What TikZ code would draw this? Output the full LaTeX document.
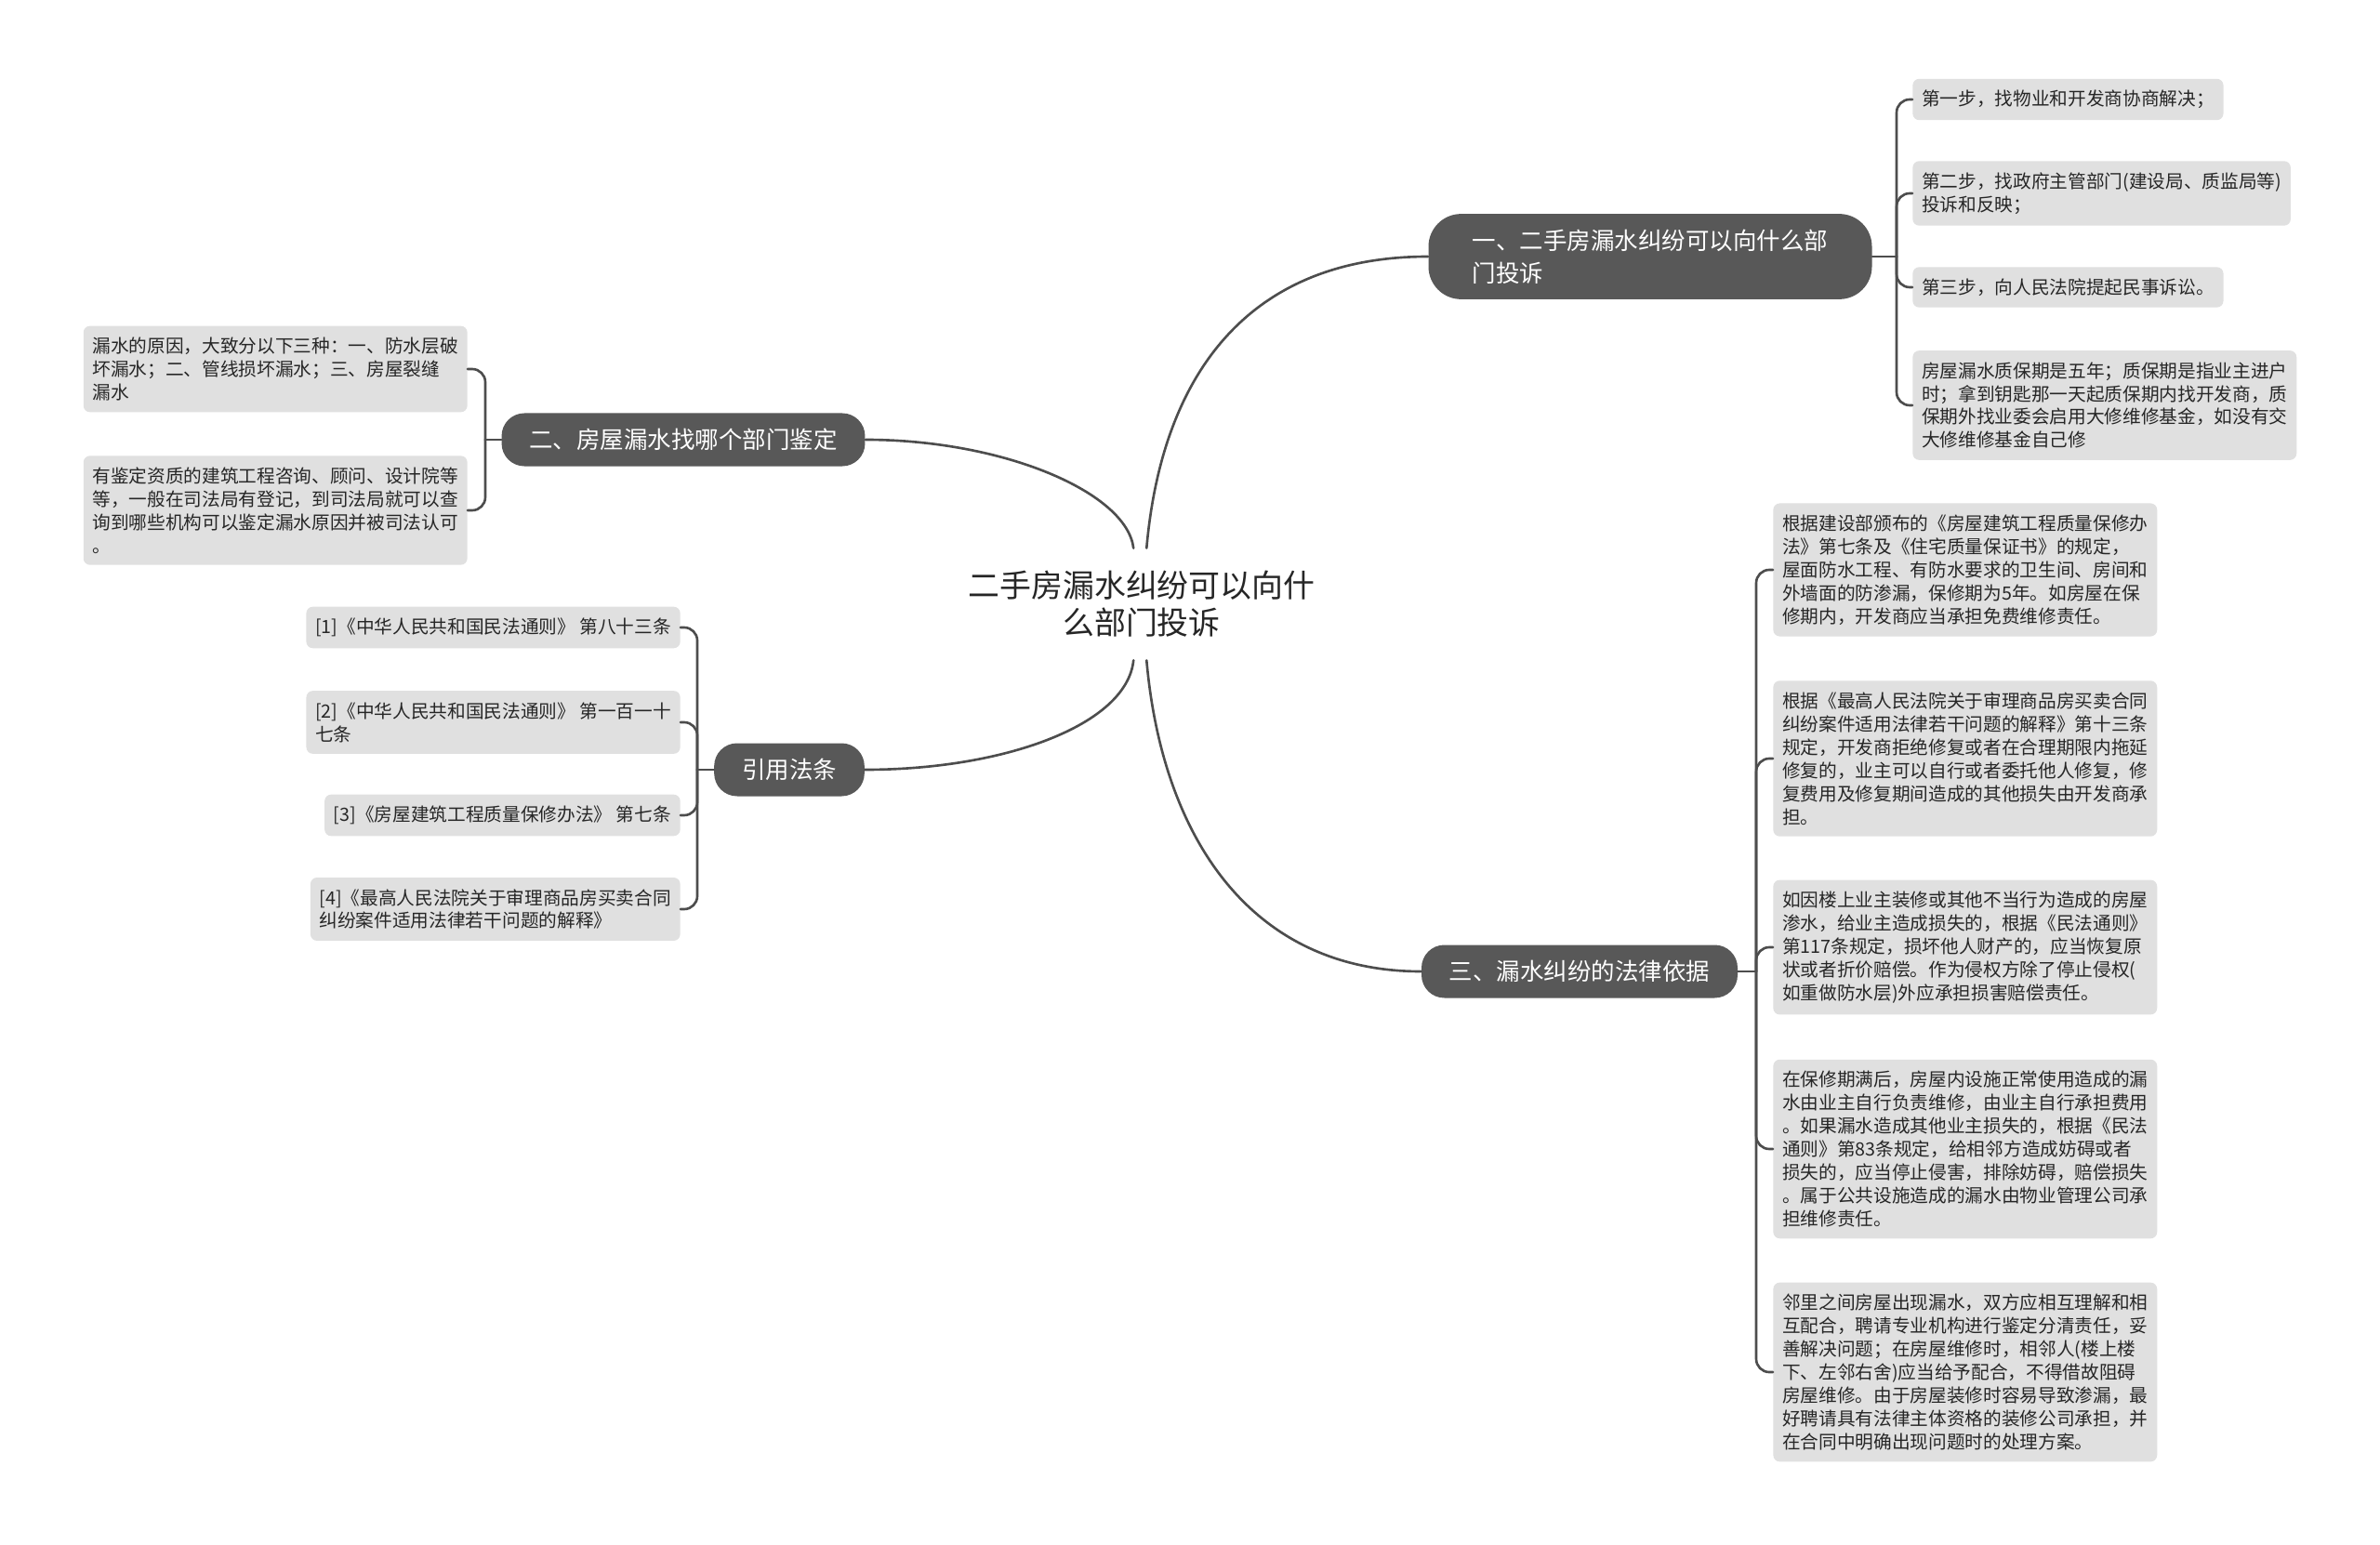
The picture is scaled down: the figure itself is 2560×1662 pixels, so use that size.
\documentclass[tikz,border=0pt]{standalone}
\usepackage{fontspec}
\setmainfont{Noto Sans CJK SC}
\usepackage{tikz}
\usepackage{xcolor}
\usetikzlibrary{positioning, calc}
\definecolor{cTopic}{RGB}{88,88,88}
\definecolor{cLeaf}{RGB}{224,224,224}
\definecolor{cLine}{RGB}{77,77,77}
\definecolor{cText}{RGB}{38,38,38}
\tikzset{
	rootnode/.style ={rectangle, align=center, text=cText, minimum height=2.4cm, inner sep=0pt,
		font=\fontsize{19.3pt}{22.7pt}\selectfont},
	topic/.style    ={rectangle, rounded corners=14pt, fill=cTopic, text=white, align=left,
		inner xsep=17pt, inner ysep=9.5pt, font=\fontsize{14.5pt}{19.8pt}\selectfont},
	leaf/.style     ={rectangle, rounded corners=4pt, fill=cLeaf, text=cText, align=left,
		inner xsep=5.5pt, inner ysep=7pt, font=\fontsize{11.2pt}{14.2pt}\selectfont},
	link/.style     ={draw=cLine, line width=1.5pt, line cap=round, rounded corners=8pt},
}
\begin{document}
\begin{tikzpicture}[x=0.02cm, y=-0.02cm]
	\fill[white] (0,0) rectangle (2560,1662);
	\useasboundingbox (0,0) rectangle (2560,1662);
	% centre and main topics
	\node[rootnode] (root) at (1228,650) {二手房漏水纠纷可以向什\\么部门投诉};
	\node[topic, rounded corners=20pt, inner xsep=27pt, inner ysep=9.5pt] (tA) at (1775,276) {一、二手房漏水纠纷可以向什么部\\门投诉};
	\node[topic] (tB) at (735,473) {二、房屋漏水找哪个部门鉴定};
	\node[topic] (tC) at (1699,1045) {三、漏水纠纷的法律依据};
	\node[topic] (tD) at (849,828) {引用法条};
	\draw[link] ([xshift=3pt]root.north) .. controls (1250,400) and (1345,276) .. (tA.west);
	\draw[link] ([xshift=-5pt]root.north) .. controls (1212,530) and (1080,473) .. (tB.east);
	\draw[link] ([xshift=3pt]root.south) .. controls (1250,900) and (1345,1045) .. (tC.west);
	\draw[link] ([xshift=-5pt]root.south) .. controls (1212,780) and (1080,828) .. (tD.east);
	% topic A
	\node[leaf, anchor=west] (a1) at (2057,107) {第一步，找物业和开发商协商解决；};
	\node[leaf, anchor=west] (a2) at (2057,208) {第二步，找政府主管部门(建设局、质监局等)\\投诉和反映；};
	\node[leaf, anchor=west] (a3) at (2057,309) {第三步，向人民法院提起民事诉讼。};
	\node[leaf, anchor=west] (a4) at (2057,436) {房屋漏水质保期是五年；质保期是指业主进户\\时；拿到钥匙那一天起质保期内找开发商，质\\保期外找业委会启用大修维修基金，如没有交\\大修维修基金自己修};
	\coordinate (fa) at (2040,276);
	\draw[link] (tA.east) -- (fa);
	\draw[link] (fa) |- (a1.west);
	\draw[link] (fa) |- (a2.west);
	\draw[link] (fa) |- (a3.west);
	\draw[link] (fa) |- (a4.west);
	% topic B
	\node[leaf, anchor=east] (b1) at (503,397) {漏水的原因，大致分以下三种：一、防水层破\\坏漏水；二、管线损坏漏水；三、房屋裂缝\\漏水};
	\node[leaf, anchor=east] (b2) at (503,549) {有鉴定资质的建筑工程咨询、顾问、设计院等\\等，一般在司法局有登记，到司法局就可以查\\询到哪些机构可以鉴定漏水原因并被司法认可\\。};
	\coordinate (fb) at (522,473);
	\draw[link] (tB.west) -- (fb);
	\draw[link] (fb) |- (b1.east);
	\draw[link] (fb) |- (b2.east);
	% topic C
	\node[leaf, anchor=west] (c1) at (1907,613) {根据建设部颁布的《房屋建筑工程质量保修办\\法》第七条及《住宅质量保证书》的规定，\\屋面防水工程、有防水要求的卫生间、房间和\\外墙面的防渗漏，保修期为5年。如房屋在保\\修期内，开发商应当承担免费维修责任。};
	\node[leaf, anchor=west] (c2) at (1907,816) {根据《最高人民法院关于审理商品房买卖合同\\纠纷案件适用法律若干问题的解释》第十三条\\规定，开发商拒绝修复或者在合理期限内拖延\\修复的，业主可以自行或者委托他人修复，修\\复费用及修复期间造成的其他损失由开发商承\\担。};
	\node[leaf, anchor=west] (c3) at (1907,1019) {如因楼上业主装修或其他不当行为造成的房屋\\渗水，给业主造成损失的，根据《民法通则》\\第117条规定，损坏他人财产的，应当恢复原\\状或者折价赔偿。作为侵权方除了停止侵权(\\如重做防水层)外应承担损害赔偿责任。};
	\node[leaf, anchor=west] (c4) at (1907,1236) {在保修期满后，房屋内设施正常使用造成的漏\\水由业主自行负责维修，由业主自行承担费用\\。如果漏水造成其他业主损失的，根据《民法\\通则》第83条规定，给相邻方造成妨碍或者\\损失的，应当停止侵害，排除妨碍，赔偿损失\\。属于公共设施造成的漏水由物业管理公司承\\担维修责任。};
	\node[leaf, anchor=west] (c5) at (1907,1476) {邻里之间房屋出现漏水，双方应相互理解和相\\互配合，聘请专业机构进行鉴定分清责任，妥\\善解决问题；在房屋维修时，相邻人(楼上楼\\下、左邻右舍)应当给予配合，不得借故阻碍\\房屋维修。由于房屋装修时容易导致渗漏，最\\好聘请具有法律主体资格的装修公司承担，并\\在合同中明确出现问题时的处理方案。};
	\coordinate (fc) at (1889,1045);
	\draw[link] (tC.east) -- (fc);
	\draw[link] (fc) |- (c1.west);
	\draw[link] (fc) |- (c2.west);
	\draw[link] (fc) |- (c3.west);
	\draw[link] (fc) |- (c4.west);
	\draw[link] (fc) |- (c5.west);
	% topic D
	\node[leaf, anchor=east] (d1) at (732,675) {[1]《中华人民共和国民法通则》 第八十三条};
	\node[leaf, anchor=east] (d2) at (732,777) {[2]《中华人民共和国民法通则》 第一百一十\\七条};
	\node[leaf, anchor=east] (d3) at (732,877) {[3]《房屋建筑工程质量保修办法》 第七条};
	\node[leaf, anchor=east] (d4) at (732,978) {[4]《最高人民法院关于审理商品房买卖合同\\纠纷案件适用法律若干问题的解释》};
	\coordinate (fd) at (750,828);
	\draw[link] (tD.west) -- (fd);
	\draw[link] (fd) |- (d1.east);
	\draw[link] (fd) |- (d2.east);
	\draw[link] (fd) |- (d3.east);
	\draw[link] (fd) |- (d4.east);
\end{tikzpicture}
\end{document}
